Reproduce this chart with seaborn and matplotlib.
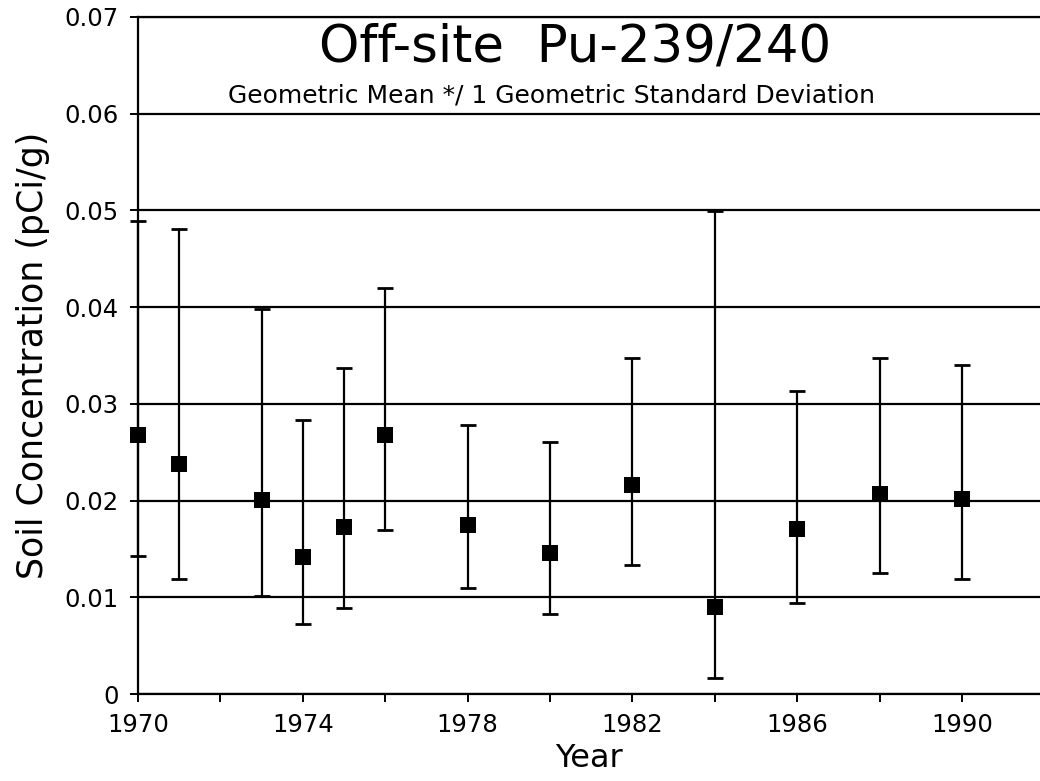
import numpy as np
import pandas as pd
import matplotlib
matplotlib.use("Agg")
import matplotlib.pyplot as plt
import seaborn as sns

# Data
years = [1970, 1971, 1973, 1974, 1975, 1976, 1978, 1980, 1982, 1984, 1986, 1988, 1990]
geo_mean = [0.0268, 0.0238, 0.0201, 0.0142, 0.0173, 0.0268, 0.0175, 0.0146, 0.0216, 0.0090, 0.0171, 0.0207, 0.0202]
upper = [0.0489, 0.0481, 0.0398, 0.0283, 0.0337, 0.0420, 0.0278, 0.0261, 0.0347, 0.0499, 0.0313, 0.0347, 0.0340]
lower = [0.0143, 0.0119, 0.0101, 0.0072, 0.0089, 0.0170, 0.0110, 0.0083, 0.0133, 0.0017, 0.0094, 0.0125, 0.0119]
x_ticks = list(range(1970, 1992, 2))
x_labels = [str(y) if (y - 1970) % 4 == 0 else "" for y in x_ticks]
y_ticks = [0, 0.01, 0.02, 0.03, 0.04, 0.05, 0.06, 0.07]
y_labels = ["0", "0.01", "0.02", "0.03", "0.04", "0.05", "0.06", "0.07"]
title = "Off-site  Pu-239/240"
subtitle = "Geometric Mean */ 1 Geometric Standard Deviation"

df = pd.DataFrame({"Year": years, "gm": geo_mean, "lo": lower, "hi": upper})

sns.set_style("white")
plt.rcParams["font.family"] = ["DejaVu Sans"]

W, H = 1040, 781
fig = plt.figure(figsize=(W / 100, H / 100), dpi=100)
ax = fig.add_axes([138 / W, 87 / H, (W - 138) / W, 677 / H])

ax.set_xlim(1970, 1970 + 902 / 41.2)
ax.set_ylim(0, 0.07)

# horizontal grid lines
ax.set_yticks(y_ticks)
ax.set_yticklabels(y_labels)
ax.yaxis.grid(True, color="black", linewidth=1.6, zorder=1)
ax.xaxis.grid(False)
ax.set_axisbelow(True)

ax.set_xticks(x_ticks)
ax.set_xticklabels(x_labels)

ax.errorbar(df["Year"], df["gm"],
            yerr=[df["gm"] - df["lo"], df["hi"] - df["gm"]],
            fmt="none", ecolor="black", elinewidth=1.6,
            capsize=6, capthick=2, clip_on=False, zorder=3)
sns.scatterplot(data=df, x="Year", y="gm", marker="s", s=135, color="black",
                edgecolor="black", linewidth=0, ax=ax, zorder=4, clip_on=False)

for side in ["left", "bottom", "top"]:
    ax.spines[side].set_visible(True)
    ax.spines[side].set_color("black")
    ax.spines[side].set_linewidth(1.6)
ax.spines["right"].set_visible(False)

ax.tick_params(axis="both", which="major", direction="out", length=6, width=1.4,
               color="black", labelsize=17.5, labelcolor="black", pad=8,
               left=True, bottom=True)

ax.set_xlabel("Year", fontsize=23, labelpad=4, color="black")
ax.set_ylabel("Soil Concentration (pCi/g)", fontsize=25, labelpad=10, color="black")

ax.text(0.4845, 0.955, title, transform=ax.transAxes, ha="center", va="center",
        fontsize=37, color="black")
ax.text(0.4585, 0.884, subtitle, transform=ax.transAxes, ha="center", va="center",
        fontsize=18, color="black")

fig.savefig("out.png", dpi=100)
